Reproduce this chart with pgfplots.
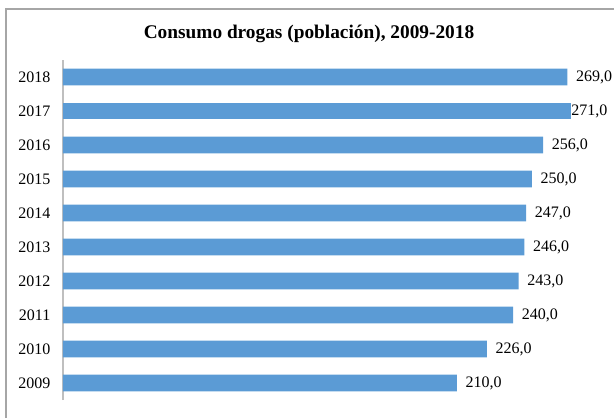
\documentclass[border=0pt]{standalone}
\usepackage{pgfplots}
\pgfplotsset{compat=1.18}
\usepackage{fontspec}
\setmainfont{Liberation Serif}
\definecolor{barblue}{HTML}{5B9BD5}
\definecolor{framegray}{HTML}{A6A6A6}
\definecolor{axisgray}{HTML}{BFBFBF}

\begin{document}
\begin{tikzpicture}
  % picture box: 614x418 px at 0.75pt/px, axis origin at the lower left of the plot
  \useasboundingbox (-47.25pt,-13.5pt) rectangle (413.25pt,300pt);
  \draw[framegray, line width=0.9pt] (-42.75pt,-13.5pt) -- (-42.75pt,293.25pt) -- (413.25pt,293.25pt);
  \begin{axis}[
    at={(0,0)}, anchor=south west,
    scale only axis,
    width=406.5pt, height=255pt,
    xbar, bar width=12.4pt, bar shift=0pt,
    xmin=0, xmax=289,
    ymin=-0.5, ymax=9.5,
    axis x line=none,
    axis y line=left,
    y axis line style={draw=axisgray, line width=0.8pt, -},
    ytick={0,...,9},
    yticklabels={2009,2010,2011,2012,2013,2014,2015,2016,2017,2018},
    major tick length=0pt,
    tick label style={font=\fontsize{12}{14}\selectfont, text=black},
    yticklabel style={xshift=-6pt},
    /pgf/number format/assume math mode=true,
    nodes near coords,
    nodes near coords style={font=\fontsize{12}{14}\selectfont, text=black, xshift=3pt,
      /pgf/number format/fixed, /pgf/number format/fixed zerofill,
      /pgf/number format/precision=1, /pgf/number format/use comma,
      /pgf/number format/assume math mode=true},
    clip=false,
  ]
    \addplot[fill=barblue, draw=none] coordinates {
      (210,0) (226,1) (240,2) (243,3) (246,4)
      (247,5) (250,6) (256,7) (269,9)};
    % the longest bar: its label is pushed against the bar, as in the reference
    \addplot[fill=barblue, draw=none, nodes near coords style={xshift=-6.5pt}] coordinates {
      (271,8)};
  \end{axis}
  \node[font=\bfseries\fontsize{14.5}{17}\selectfont] at (184.5pt,274.5pt) {Consumo drogas (población), 2009-2018};
\end{tikzpicture}
\end{document}
